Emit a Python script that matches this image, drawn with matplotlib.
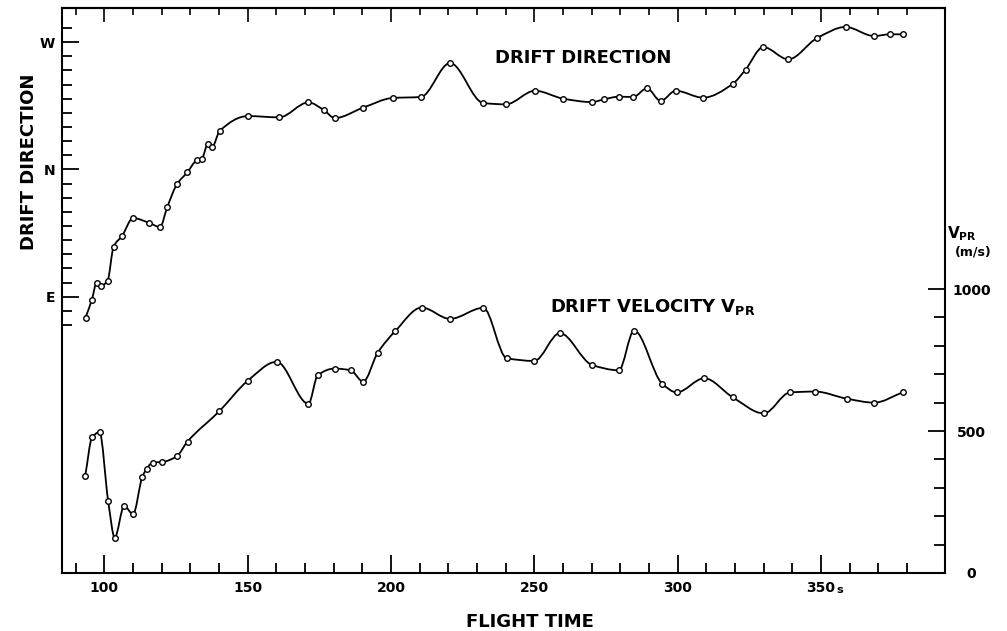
import numpy as np
import matplotlib
matplotlib.use("Agg")
import matplotlib.pyplot as plt
from matplotlib.path import Path
from matplotlib.patches import PathPatch

# drift direction (degrees, E=0, N=90, W=180) vs flight time (s)
dir_t = [93.4, 95.6, 97.3, 98.7, 101.1, 103.2, 106.2, 110.0, 115.5, 119.4,
         121.9, 125.3, 128.9, 132.2, 134.0, 136.1, 137.6, 140.2, 150.1, 161.0,
         171.2, 176.5, 180.4, 190.2, 200.6, 210.4, 220.6, 232.2, 240.1, 250.2,
         260.1, 270.0, 274.3, 279.4, 284.5, 289.3, 294.1, 299.3, 308.9, 319.2,
         323.7, 329.9, 338.6, 348.7, 358.6, 368.5, 374.2, 378.7]
dir_deg = [-14.8, -2.3, 9.9, 7.6, 11.3, 35.4, 43.1, 55.6, 52.3, 49.3,
           63.2, 79.5, 87.9, 96.4, 97.6, 108.0, 106.0, 117.1, 127.7, 126.8,
           137.4, 132.0, 126.3, 133.6, 140.5, 141.2, 165.2, 136.9, 136.0, 145.6,
           140.0, 137.6, 139.5, 141.4, 141.2, 147.3, 138.4, 145.6, 140.7, 150.4,
           160.5, 176.5, 167.8, 182.9, 190.7, 184.3, 185.5, 185.5]

# drift velocity V_PR (m/s) vs flight time (s)
vel_t = [93.3, 95.7, 98.3, 101.3, 103.6, 106.9, 110.0, 113.2, 114.8, 116.8,
         120.2, 125.2, 129.0, 140.0, 150.0, 160.1, 171.2, 174.4, 180.3, 185.9,
         190.3, 195.3, 201.5, 210.7, 220.6, 232.2, 240.3, 250.0, 258.9, 270.1,
         279.5, 284.8, 294.6, 299.7, 309.3, 319.2, 330.1, 339.2, 348.0, 359.0,
         368.6, 378.7]
vel = [342, 478, 496, 254, 125, 236, 207, 338, 368, 389,
       391, 411, 463, 569, 677, 744, 596, 696, 720, 714,
       674, 775, 852, 935, 895, 934, 757, 747, 845, 733,
       714, 854, 667, 636, 686, 619, 562, 636, 639, 614,
       600, 637]

x_major = [100, 150, 200, 250, 300, 350]
x_labels = ["100", "150", "200", "250", "300", "350"]
dir_ticks = [0, 90, 180]
dir_labels = ["E", "N", "W"]
vel_ticks = [0, 500, 1000]
vel_labels = ["0", "500", "1000"]


def smooth_path(x, y):
    # monotone cubic bezier through the points (hand drawn look)
    x = np.asarray(x, float)
    y = np.asarray(y, float)
    h = np.diff(x)
    d = np.diff(y) / h
    m = np.zeros_like(y)
    m[0] = d[0]
    m[-1] = d[-1]
    for i in range(1, len(y) - 1):
        if d[i - 1] * d[i] > 0:
            w1 = 2 * h[i] + h[i - 1]
            w2 = h[i] + 2 * h[i - 1]
            m[i] = (w1 + w2) / (w1 / d[i - 1] + w2 / d[i])
    verts = [(x[0], y[0])]
    codes = [Path.MOVETO]
    for i in range(len(h)):
        verts += [(x[i] + h[i] / 3, y[i] + m[i] * h[i] / 3),
                  (x[i + 1] - h[i] / 3, y[i + 1] - m[i + 1] * h[i] / 3),
                  (x[i + 1], y[i + 1])]
        codes += [Path.CURVE4] * 3
    return Path(verts, codes)


fig = plt.figure(figsize=(10.07, 6.31), dpi=100)
ax = fig.add_axes([62 / 1007, 58 / 631, 883 / 1007, 565 / 631])
ax2 = ax.twinx()

ax.set_xlim(85.2, 393.3)
ax.set_ylim(-195.3, 204.1)
ax2.set_ylim(0, 1990)

for a in (ax, ax2):
    for s in a.spines.values():
        s.set_linewidth(1.5)
ax.spines["right"].set_visible(False)
ax2.spines["left"].set_visible(False)
ax2.spines["top"].set_visible(False)
ax2.spines["bottom"].set_visible(False)

# direction curve
ax.add_patch(PathPatch(smooth_path(dir_t, dir_deg), fill=False, lw=1.3, color="black"))
ax.plot(dir_t, dir_deg, ls="none", marker="o", ms=4, mfc="white", mec="black", mew=1.0)

# velocity curve
ax2.add_patch(PathPatch(smooth_path(vel_t, vel), fill=False, lw=1.3, color="black"))
ax2.plot(vel_t, vel, ls="none", marker="o", ms=4, mfc="white", mec="black", mew=1.0)

# x axis
ax.set_xticks(x_major)
ax.set_xticklabels(x_labels, fontsize=10, fontweight="bold")
ax.set_xticks(np.arange(90, 381, 10), minor=True)
ax.tick_params(axis="x", which="major", direction="in", length=13, width=1.3, pad=6)
ax.tick_params(axis="x", which="minor", direction="in", length=7, width=1.3)
top = ax.secondary_xaxis("top")
top.set_xticks(x_major)
top.set_xticklabels([])
top.set_xticks(np.arange(90, 381, 10), minor=True)
top.tick_params(which="major", direction="in", length=10, width=1.2)
top.tick_params(which="minor", direction="in", length=5, width=1.2)
top.spines["top"].set_linewidth(1.5)

# left axis
ax.set_yticks(dir_ticks)
ax.set_yticklabels(dir_labels, fontsize=10, fontweight="bold")
ax.set_yticks(np.arange(-20, 191, 10), minor=True)
ax.tick_params(axis="y", which="major", direction="in", length=12, width=1.3, pad=5)
ax.tick_params(axis="y", which="minor", direction="in", length=7, width=1.3)

# right axis
ax2.set_yticks(vel_ticks)
ax2.set_yticklabels(vel_labels, fontsize=10, fontweight="bold")
ax2.set_yticks(np.arange(0, 1001, 100), minor=True)
ax2.tick_params(axis="y", which="major", direction="in", length=12, width=1.3, pad=19)
ax2.tick_params(axis="y", which="minor", direction="in", length=8, width=1.3)
for lbl in ax2.get_yticklabels():
    lbl.set_ha("center")

ax.text(356.6, -0.03, "s", transform=ax.get_xaxis_transform(), fontsize=8,
        fontweight="bold", ha="center", va="center")

ax.text(267.1, 0.9115, "DRIFT DIRECTION", transform=ax.get_xaxis_transform(),
        fontsize=13, fontweight="bold", ha="center", va="center")
ax.text(291.4, 0.4708, r"DRIFT VELOCITY V$_{\mathbf{PR}}$", transform=ax.get_xaxis_transform(),
        fontsize=13, fontweight="bold", ha="center", va="center")

fig.text(29 / 1007, 1 - 162 / 631, "DRIFT DIRECTION", rotation=90, fontsize=13,
         fontweight="bold", ha="center", va="center")
fig.text(530 / 1007, 1 - 622 / 631, "FLIGHT TIME", fontsize=13,
         fontweight="bold", ha="center", va="center")
fig.text(947 / 1007, 1 - 234 / 631, r"V$_{\mathbf{PR}}$", fontsize=11,
         fontweight="bold", ha="left", va="center")
fig.text(973 / 1007, 1 - 252 / 631, "(m/s)", fontsize=9,
         fontweight="bold", ha="center", va="center")

fig.savefig("out.png", dpi=100)
